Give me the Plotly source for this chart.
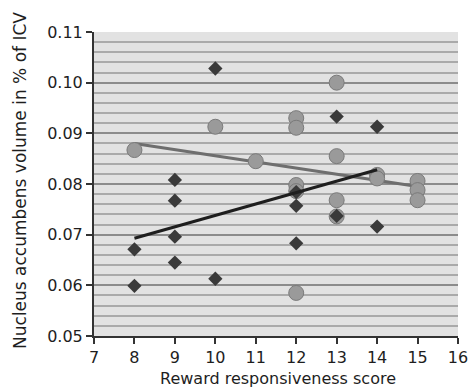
import plotly.graph_objects as go

# Diamond series (dark)
dia_x = [8, 8, 9, 9, 9, 9, 10, 10, 12, 12, 12, 13, 13, 14, 14]
dia_y = [0.0671, 0.0599, 0.0808, 0.0767, 0.0696, 0.0645, 0.1028, 0.0613,
         0.0784, 0.0757, 0.0683, 0.0933, 0.0737, 0.0913, 0.0716]

# Circle series (gray)
cir_x = [8, 10, 11, 12, 12, 12, 12, 12, 13, 13, 13, 13, 14, 14, 15, 15, 15]
cir_y = [0.0867, 0.0913, 0.0845, 0.0930, 0.0911, 0.0798, 0.0786, 0.0585,
         0.1000, 0.0855, 0.0768, 0.0736, 0.0818, 0.0811, 0.0806, 0.0788, 0.0768]

# Trend lines (endpoints)
trend_dia_x = [8, 14]
trend_dia_y = [0.0693, 0.0828]
trend_cir_x = [8, 15]
trend_cir_y = [0.0880, 0.0795]

x_ticks = [7, 8, 9, 10, 11, 12, 13, 14, 15, 16]
y_ticks = [0.05, 0.06, 0.07, 0.08, 0.09, 0.10, 0.11]
y_labels = ["0.05", "0.06", "0.07", "0.08", "0.09", "0.10", "0.11"]

fig = go.Figure()
fig.add_trace(go.Scatter(x=trend_cir_x, y=trend_cir_y, mode="lines",
                         line=dict(color="#6e6e6e", width=3), hoverinfo="skip"))
fig.add_trace(go.Scatter(x=cir_x, y=cir_y, mode="markers",
                         marker=dict(symbol="circle", size=15, color="#9a9a9a",
                                     line=dict(color="#7a7a7a", width=1))))
fig.add_trace(go.Scatter(x=dia_x, y=dia_y, mode="markers",
                         marker=dict(symbol="diamond", size=11, color="#3a3a3a",
                                     line=dict(width=0))))
fig.add_trace(go.Scatter(x=trend_dia_x, y=trend_dia_y, mode="lines",
                         line=dict(color="#1e1e1e", width=3), hoverinfo="skip"))

font = "DejaVu Sans"
fig.update_layout(
    width=469, height=391,
    margin=dict(l=94, r=11, t=32, b=55),
    paper_bgcolor="white", plot_bgcolor="#e2e2e2",
    showlegend=False,
    font=dict(family=font, size=16, color="#1e1e1e"),
    xaxis=dict(range=[7, 16], tickvals=x_ticks, showgrid=False, zeroline=False,
               automargin=False,
               showline=True, linecolor="#333", linewidth=2,
               ticks="outside", ticklen=6, tickcolor="#333", tickwidth=1.5,
               tickfont=dict(size=16, color="#1e1e1e")),
    yaxis=dict(range=[0.05, 0.11], tickvals=y_ticks, ticktext=y_labels,
               automargin=False,
               showgrid=True, gridcolor="#8c8c8c", gridwidth=1.5, zeroline=False,
               showline=True, linecolor="#333", linewidth=2,
               ticks="outside", ticklen=6, tickcolor="#333", tickwidth=1.5,
               tickfont=dict(size=16, color="#1e1e1e"),
               minor=dict(dtick=0.002, showgrid=True, gridcolor="#aaaaaa", gridwidth=1.5, ticks="")),
)
fig.add_annotation(text="Nucleus accumbens volume in % of ICV", textangle=-90,
                   xref="paper", yref="paper", x=(20 - 94) / 364, y=0.51,
                   xanchor="center", yanchor="middle", showarrow=False,
                   font=dict(size=17, color="#1e1e1e"))
fig.add_annotation(text="Reward responsiveness score",
                   xref="paper", yref="paper", x=(278 - 94) / 364, y=-(378 - 336) / 304,
                   xanchor="center", yanchor="middle", showarrow=False,
                   font=dict(size=16, color="#1e1e1e"))
fig.write_html("out.html", config={"displayModeBar": False},
               post_script="document.body.style.margin='0';")
